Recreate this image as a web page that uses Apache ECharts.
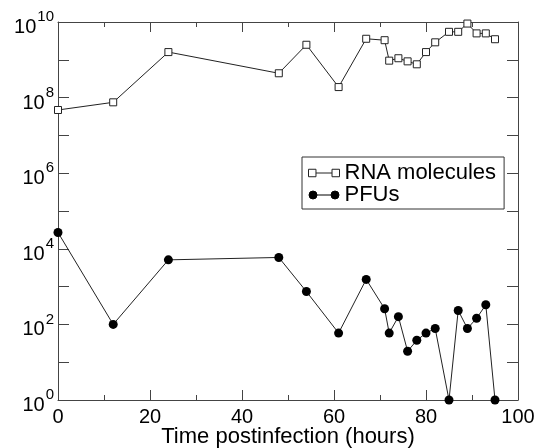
<!DOCTYPE html>
<html>
<head>
<meta charset="utf-8">
<script src="https://cdn.jsdelivr.net/npm/echarts@6/dist/echarts.min.js"></script>
<style>
html,body{margin:0;padding:0;background:#fff;}
#chart{width:539px;height:448px;}
</style>
</head>
<body>
<div id="chart"></div>
<script>
// Data
const hours = [0, 12, 24, 48, 54, 61, 67, 71, 72, 74, 76, 78, 80, 82, 85, 87, 89, 91, 93, 95];
const rnaMolecules = [4.7e7, 7.5e7, 1.6e9, 4.4e8, 2.5e9, 1.9e8, 3.6e9, 3.3e9, 9.5e8, 1.1e9, 9.1e8, 7.6e8, 1.6e9, 2.9e9, 5.5e9, 5.5e9, 9.1e9, 5.0e9, 5.0e9, 3.5e9];
const pfus = [2.7e4, 100, 5100, 5900, 740, 59, 1550, 260, 59, 160, 19.5, 38, 59, 78, 1, 234, 78, 145, 330, 1];
const seriesNames = ['RNA molecules', 'PFUs'];
const xTickValues = [0, 20, 40, 60, 80, 100];
const yLabelExponents = [0, 2, 4, 6, 8, 10];
const xTitle = 'Time postinfection (hours)';

const FONT = 'Liberation Sans';
const AXIS_COLOR = '#444';
const LINE_COLOR = '#222';

const pair = arr => hours.map((h, i) => [h, arr[i]]);

const xCommon = {
  type: 'value', min: 0, max: 100, interval: 20,
  axisLine: { show: true, onZero: false, lineStyle: { color: AXIS_COLOR, width: 1 } },
  axisTick: { show: true, inside: true, length: 10, lineStyle: { color: AXIS_COLOR, width: 1 } },
  minorTick: { show: true, splitNumber: 2, length: 5, lineStyle: { color: AXIS_COLOR, width: 1 } },
  splitLine: { show: false },
  minorSplitLine: { show: false }
};
const yCommon = {
  type: 'log', logBase: 10, min: 1, max: 1e10, interval: 1,
  axisLine: { show: true, onZero: false, lineStyle: { color: AXIS_COLOR, width: 1 } },
  axisTick: { show: true, inside: true, length: 11, lineStyle: { color: AXIS_COLOR, width: 1 } },
  splitLine: { show: false }
};

const chart = echarts.init(document.getElementById('chart'), null, { renderer: 'canvas' });
chart.setOption({
  animation: false,
  backgroundColor: '#fff',
  textStyle: { fontFamily: FONT },
  grid: { left: 58, right: 21, top: 22, bottom: 48, containLabel: false, outerBoundsMode: 'none' },
  xAxis: [
    Object.assign({}, xCommon, {
      position: 'bottom',
      name: xTitle, nameLocation: 'middle', nameGap: 26, nameMoveOverlap: false,
      nameTextStyle: { fontFamily: FONT, fontSize: 22, color: '#000' },
      axisLabel: {
        show: true, margin: 7, fontFamily: FONT, fontSize: 20, color: '#000',
        formatter: v => xTickValues.includes(v) ? String(v) : ''
      }
    }),
    Object.assign({}, xCommon, { position: 'top', axisLabel: { show: false } })
  ],
  yAxis: [
    Object.assign({}, yCommon, {
      position: 'left',
      axisLabel: {
        show: true, margin: 4, color: '#000', padding: [11, 0, 0, 0],
        formatter: v => {
          const e = Math.round(Math.log10(v));
          return yLabelExponents.includes(e) ? '{b|10}{s|' + e + '}' : '';
        },
        rich: {
          b: { fontFamily: FONT, fontSize: 20, lineHeight: 20, color: '#000', verticalAlign: 'bottom' },
          s: { fontFamily: FONT, fontSize: 15, lineHeight: 15, color: '#000', verticalAlign: 'bottom', padding: [5, 0, 13, 1] }
        }
      }
    }),
    Object.assign({}, yCommon, { position: 'right', axisLabel: { show: false } })
  ],
  legend: {
    show: true, orient: 'vertical', left: 302, top: 157,
    padding: [5, 8, 3, 6], itemGap: 0,
    itemWidth: 31, itemHeight: 8,
    borderColor: '#333', borderWidth: 1, backgroundColor: '#fff',
    textStyle: { fontFamily: FONT, fontSize: 22, lineHeight: 20, color: '#000', padding: [0, 0, 0, 0] },
    data: [
      { name: seriesNames[0], icon: 'path://M0.5,0.5h7v7h-7z M7.5,4h15 M22.5,0.5h7v7h-7z',
        itemStyle: { color: '#fff', borderColor: LINE_COLOR, borderWidth: 1 } },
      { name: seriesNames[1], icon: 'path://M0,4a4,4 0 1,0 8,0a4,4 0 1,0 -8,0z M8,4h14 M22,4a4,4 0 1,0 8,0a4,4 0 1,0 -8,0z',
        itemStyle: { color: '#000', borderColor: '#000', borderWidth: 1 } }
    ]
  },
  series: [
    {
      name: seriesNames[0], type: 'line', xAxisIndex: 0, yAxisIndex: 0,
      data: pair(rnaMolecules), clip: false,
      symbol: 'rect', symbolSize: 7, showAllSymbol: true,
      lineStyle: { color: LINE_COLOR, width: 1 },
      itemStyle: { color: '#fff', borderColor: LINE_COLOR, borderWidth: 1 },
      z: 3
    },
    {
      name: seriesNames[1], type: 'line', xAxisIndex: 0, yAxisIndex: 0,
      data: pair(pfus), clip: false,
      symbol: 'circle', symbolSize: 9, showAllSymbol: true,
      lineStyle: { color: LINE_COLOR, width: 1 },
      itemStyle: { color: '#000', borderColor: '#000', borderWidth: 0 },
      z: 3
    }
  ]
});
</script>
</body>
</html>
